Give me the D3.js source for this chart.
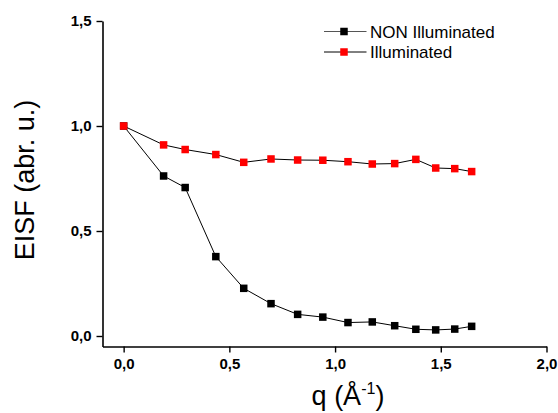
<!DOCTYPE html>
<html>
<head>
<meta charset="utf-8">
<script src="https://d3js.org/d3.v7.min.js"></script>
<style>
  body { margin: 0; background: #fff; }
  svg text { font-family: Arial, "Liberation Sans", sans-serif; }
</style>
</head>
<body>
<div id="chart"></div>
<script>
    // q values (Å^-1) shared by both series
    const qValues = [0, 0.189, 0.291, 0.436, 0.568, 0.697, 0.823, 0.942, 1.061, 1.176, 1.282, 1.382, 1.476, 1.566, 1.646];
    const nonIlluminated = [1.0, 0.762, 0.707, 0.378, 0.227, 0.154, 0.103, 0.090, 0.064, 0.067, 0.049, 0.032, 0.029, 0.033, 0.046];
    const illuminated = [1.0, 0.910, 0.888, 0.864, 0.827, 0.843, 0.838, 0.837, 0.830, 0.819, 0.821, 0.841, 0.800, 0.797, 0.783];
    const seriesNames = ["NON Illuminated", "Illuminated"];
    const seriesColors = ["#000000", "#ff0000"];
    const xTicks = [0, 0.5, 1.0, 1.5, 2.0];
    const yTicks = [0, 0.5, 1.0, 1.5];

    (function() {
        const width = 558, height = 413;
        const svg = d3.select("#chart").append("svg")
            .attr("width", width)
            .attr("height", height);

        const x = d3.scaleLinear().domain([-0.1, 2.0]).range([102.5, 546.5]);
        const y = d3.scaleLinear().domain([-0.05, 1.5]).range([346.5, 21]);

        const fmt = d => d3.format(".1f")(d).replace(".", ",");

        // axes
        const xAxis = svg.append("g")
            .attr("transform", "translate(0," + y.range()[0] + ")")
            .call(d3.axisBottom(x).tickValues(xTicks).tickFormat(fmt).tickSize(6).tickSizeOuter(0).tickPadding(6));
        const yAxis = svg.append("g")
            .attr("transform", "translate(" + x.range()[0] + ",0)")
            .call(d3.axisLeft(y).tickValues(yTicks).tickFormat(fmt).tickSize(6).tickSizeOuter(0).tickPadding(5));

        [xAxis, yAxis].forEach(a => {
            a.select(".domain").attr("stroke", "#000").attr("stroke-width", 1.6);
            a.selectAll(".tick line").attr("stroke", "#000").attr("stroke-width", 1.4);
            a.selectAll(".tick text")
                .attr("fill", "#000")
                .style("font-size", "15px")
                .style("font-weight", "bold")
                .style("font-family", "Arial, 'Liberation Sans', sans-serif");
        });

        // axis titles
        svg.append("text")
            .attr("transform", "translate(33.5,180) rotate(-90)")
            .attr("text-anchor", "middle")
            .style("font-size", "27px")
            .text("EISF (abr. u.)");

        const xt = svg.append("text")
            .attr("x", 348)
            .attr("y", 405)
            .attr("text-anchor", "middle")
            .style("font-size", "27px");
        xt.append("tspan").text("q (Å");
        xt.append("tspan").attr("dy", -11).style("font-size", "16px").text("-1");
        xt.append("tspan").attr("dy", 11).text(")");

        const series = [nonIlluminated, illuminated];
        const line = d3.line()
            .x((d, i) => x(qValues[i]))
            .y(d => y(d));

        const ms = 7.5;
        // non-illuminated first, illuminated on top (red wins at q=0)
        [0, 1].forEach(s => {
            const vals = series[s];
            svg.append("path")
                .datum(vals)
                .attr("fill", "none")
                .attr("stroke", "#000")
                .attr("stroke-width", 1)
                .attr("d", line);
            svg.append("g").selectAll("rect")
                .data(vals)
                .enter()
                .append("rect")
                .attr("x", (d, i) => x(qValues[i]) - ms / 2)
                .attr("y", d => y(d) - ms / 2)
                .attr("width", ms)
                .attr("height", ms)
                .attr("fill", seriesColors[s]);
        });

        // legend
        const legend = svg.append("g");
        seriesNames.forEach((name, i) => {
            const ly = 31.5 + i * 20.5;
            legend.append("line")
                .attr("x1", 324).attr("x2", 366.5)
                .attr("y1", ly).attr("y2", ly)
                .attr("stroke", i === 0 ? "#555" : "#000")
                .attr("stroke-width", 1);
            legend.append("rect")
                .attr("x", 344 - ms / 2).attr("y", ly - ms / 2)
                .attr("width", ms).attr("height", ms)
                .attr("fill", seriesColors[i]);
            legend.append("text")
                .attr("x", 370)
                .attr("y", ly + 6)
                .style("font-size", "17px")
                .attr("fill", "#000")
                .text(name);
        });
    })();
</script>
</body>
</html>
